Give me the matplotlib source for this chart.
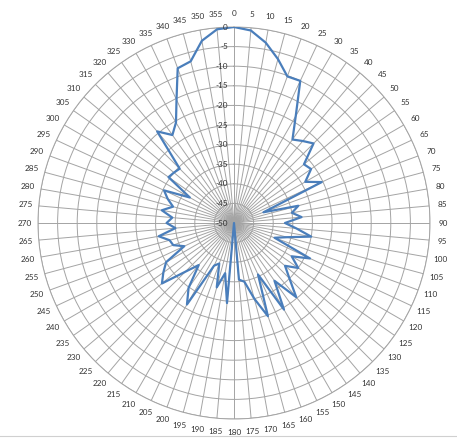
import numpy as np
import matplotlib
matplotlib.use("Agg")
import matplotlib.pyplot as plt
from matplotlib.transforms import offset_copy
from matplotlib.lines import Line2D

angles_deg = list(range(0, 360, 5))
values = [
    0, -0.7, -3.3, -6.7, -10.2, -10, -18.5, -24, -22.7, -21.3,       # 0-45
    -26.7, -26, -29, -25.3, -42, -33, -35, -32.7, -37, -34,           # 50-95
    -30, -36, -39, -28.6, -33, -30, -33, -30, -25.3, -32,             # 100-145
    -24.5, -35.5, -24.7, -30, -34.8, -35.5, -50, -29.5, -37, -33,     # 150-195
    -39, -38, -26, -29.8, -36, -32.4, -26, -28, -30, -36,             # 200-245
    -33.5, -33, -30.5, -35, -32.8, -34.2, -31.3, -33.9, -32, -30.3,   # 250-295
    -37, -29.6, -30, -30.4, -19.5, -22.6, -20.4, -15.3, -8, -7.3,     # 300-345
    -2.8, -0.4,                                                       # 350-355
]
r_ticks = list(range(-50, 1, 5))
tick_labels = [str(a) for a in angles_deg]

W, H = 457, 438
DPI = 100
fig = plt.figure(figsize=(W / DPI, H / DPI), dpi=DPI)
cx, cy, R = 234, 223, 196
ax = fig.add_axes([(cx - R) / W, (H - cy - R) / H, 2 * R / W, 2 * R / H], projection="polar")
ax.set_theta_zero_location("N")
ax.set_theta_direction(-1)
ax.set_ylim(-50, 0)

theta = np.deg2rad(angles_deg + [angles_deg[0]])
vals = values + [values[0]]
ax.plot(theta, vals, color="#4A7EBB", lw=1.6, zorder=5)

grid_color = "#a4a4a4"
text_color = "#333333"
fs = 5.9
ax.set_xticks(np.deg2rad(angles_deg))
ax.set_xticklabels([])
ax.set_yticks(r_ticks)
ax.set_yticklabels([])
ax.grid(True, color=grid_color, lw=0.7)
ax.spines["polar"].set_color(grid_color)
ax.spines["polar"].set_linewidth(0.7)

# category labels just outside the outer ring
gap_pt = 13.5 * 72 / DPI
for a, lab in zip(angles_deg, tick_labels):
    t = np.deg2rad(a)
    trl = offset_copy(ax.transData, fig=fig, x=gap_pt * np.sin(t), y=gap_pt * np.cos(t), units="points")
    ax.text(t, 0, lab, transform=trl, ha="center", va="center",
            fontsize=fs, family="Lato", color=text_color, clip_on=False)

# value-axis labels along the vertical axis
tr = offset_copy(ax.transData, fig=fig, x=-4.5, y=0, units="points")
for rv in r_ticks:
    ax.text(0, rv, str(rv), transform=tr, ha="right", va="center",
            fontsize=fs, family="Lato", color=text_color, zorder=6)

fig.add_artist(Line2D([0, 1], [1 - 436 / H, 1 - 436 / H], transform=fig.transFigure,
                      color="#d0d0d0", lw=0.8))

fig.savefig("out.png", dpi=DPI)
